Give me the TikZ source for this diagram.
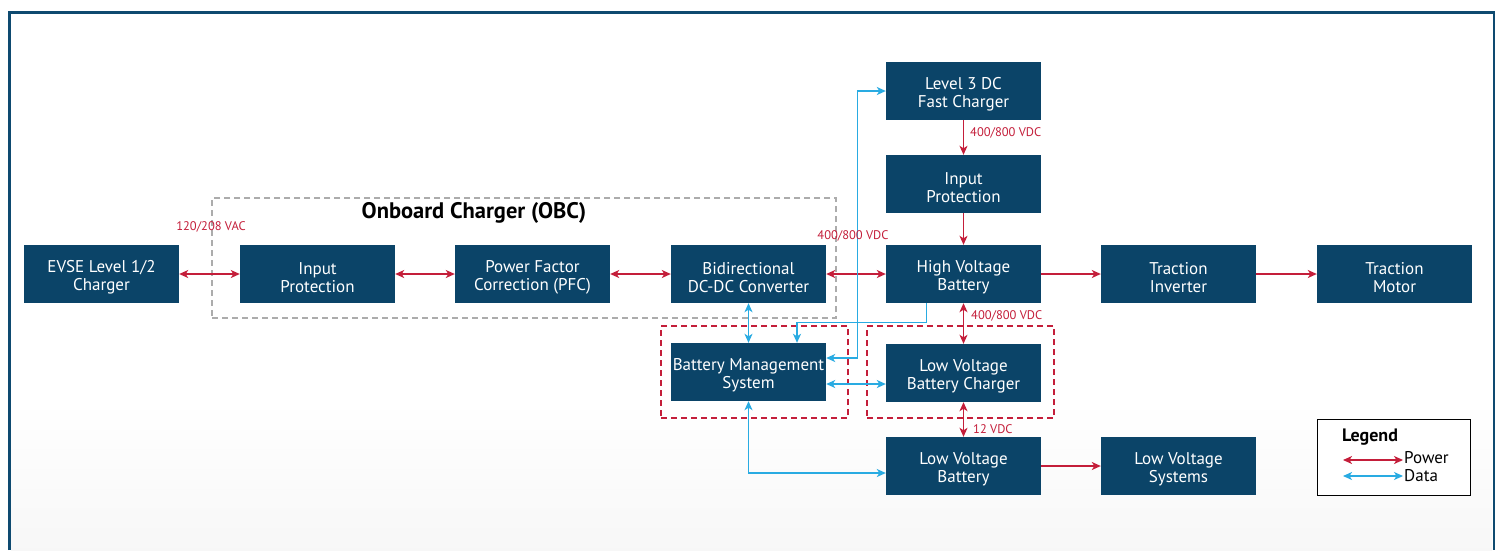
\documentclass[tikz,border=0pt]{standalone}
\usepackage{fontspec}
\setmainfont{PT Sans}
\usetikzlibrary{arrows.meta}
\definecolor{navy}{HTML}{0B4468}
\definecolor{pred}{HTML}{C41E3A}
\definecolor{dblue}{HTML}{29ABE2}
\definecolor{frame}{HTML}{0E4A70}
\newcommand{\dropstrut}{\rule{0pt}{18.5pt}}
\begin{document}
\begin{tikzpicture}[x=1pt,y=-1pt,
  >={Stealth[length=9pt,width=8pt,inset=2.5pt]},
  box/.style={fill=navy,text=white,minimum width=155pt,minimum height=58pt,inner sep=0pt,align=center,font=\fontsize{17}{18}\selectfont},
  pw/.style={draw=pred,line width=1.4pt},
  dt/.style={draw=dblue,line width=1.3pt},
  lbl/.style={text=pred,font=\fontsize{12.5}{14}\selectfont,inner sep=0pt},
  grp/.style={draw=pred,line width=2.5pt,dash pattern=on 6pt off 4pt},
  obc/.style={draw=gray!65,line width=2pt,dash pattern=on 6pt off 4pt}]
\useasboundingbox (0,0) rectangle (1501,550);
\fill[white] (0,0) rectangle (1501,550);
\shade[top color=white,bottom color=gray!6] (11,400) rectangle (1492,550);
\draw[frame,line width=2.6pt] (9.5,550) -- (9.5,12.5) -- (1494,12.5) -- (1494,550);
% groups
\node[obc,minimum width=624pt,minimum height=120pt,inner sep=0pt] (obcbox) at (524,258) {};
\node[font=\bfseries\fontsize{22.5}{24}\selectfont,inner sep=0pt] (obclabel) at (474,213) {Onboard Charger (OBC)};
\node[grp,minimum width=187pt,minimum height=92pt,inner sep=0pt] (g1) at (754.5,372) {};
\node[grp,minimum width=187pt,minimum height=92pt,inner sep=0pt] (g2) at (960.5,372) {};
% boxes
\node[box] (evse) at (101.5,274) {\dropstrut EVSE Level 1/2\\Charger};
\node[box] (ip) at (317.5,274) {\dropstrut Input\\Protection};
\node[box] (pfc) at (532.5,274) {\dropstrut Power Factor\\Correction (PFC)};
\node[box] (bidir) at (748.5,274) {\dropstrut Bidirectional\\DC-DC Converter};
\node[box] (hv) at (963.5,274) {\dropstrut High Voltage\\Battery};
\node[box] (ti) at (1178.5,274) {\dropstrut Traction\\Inverter};
\node[box] (tm) at (1394.5,274) {\dropstrut Traction\\Motor};
\node[box] (l3) at (963.5,91) {\dropstrut Level 3 DC\\Fast Charger};
\node[box] (ip2) at (963.5,184) {\dropstrut Input\\Protection};
\node[box] (bms) at (748.5,372) {\dropstrut Battery Management\\System};
\node[box] (lvbc) at (963.5,373) {\dropstrut Low Voltage\\Battery Charger};
\node[box] (lvb) at (963.5,466) {\dropstrut Low Voltage\\Battery};
\node[box] (lvs) at (1178.5,466) {\dropstrut Low Voltage\\Systems};
% power
\draw[pw,<->] (evse) -- (ip);
\draw[pw,<->] (ip) -- (pfc);
\draw[pw,<->] (pfc) -- (bidir);
\draw[pw,<->] (bidir) -- (hv);
\draw[pw,->] (hv) -- (ti);
\draw[pw,->] (ti) -- (tm);
\draw[pw,->] (l3) -- (ip2);
\draw[pw,->] (ip2) -- (hv);
\draw[pw,<->] (hv) -- (lvbc);
\draw[pw,<->] (lvbc) -- (lvb);
\draw[pw,->] (lvb) -- (lvs);
% data
\draw[dt,<->] (bidir) -- (bms);
\draw[dt,->] ([xshift=-37pt]hv.south) -- ++(0,19) -| ([xshift=48.5pt]bms.north);
\draw[dt,<->] ([yshift=14pt]bms.east) -- ++(31,0) |- (l3.west);
\draw[dt,<->] ([yshift=-12pt]bms.east) -- ([yshift=-11pt]lvbc.west);
\draw[dt,<->] (bms.south) |- ([yshift=-7pt]lvb.west);
% labels
\node[lbl] (v1) at (211,227) {120/208 VAC};
\node[lbl] (v2) at (853,236) {400/800 VDC};
\node[lbl,anchor=west] (v3) at (970,133) {400/800 VDC};
\node[lbl,anchor=west] (v4) at (971,316) {400/800 VDC};
\node[lbl,anchor=west] (v5) at (973,429) {12 VDC};
% legend
\node[draw=black,line width=1pt,fill=white,minimum width=153pt,minimum height=76pt,inner sep=0pt] (legend) at (1393.5,457) {};
\node[font=\bfseries\fontsize{18}{20}\selectfont,inner sep=0pt] (legt) at (1370,437) {Legend};
\coordinate (pa) at (1343,460);
\coordinate (pb) at (1403,460);
\coordinate (da) at (1343,476);
\coordinate (db) at (1403,476);
\draw[pw,<->] (pa) -- (pb);
\draw[dt,<->] (da) -- (db);
\node[anchor=west,inner sep=0pt,font=\fontsize{17}{18}\selectfont] (legp) at (1404,458) {Power};
\node[anchor=west,inner sep=0pt,font=\fontsize{17}{18}\selectfont] (legd) at (1404,476) {Data};
\end{tikzpicture}
\end{document}
